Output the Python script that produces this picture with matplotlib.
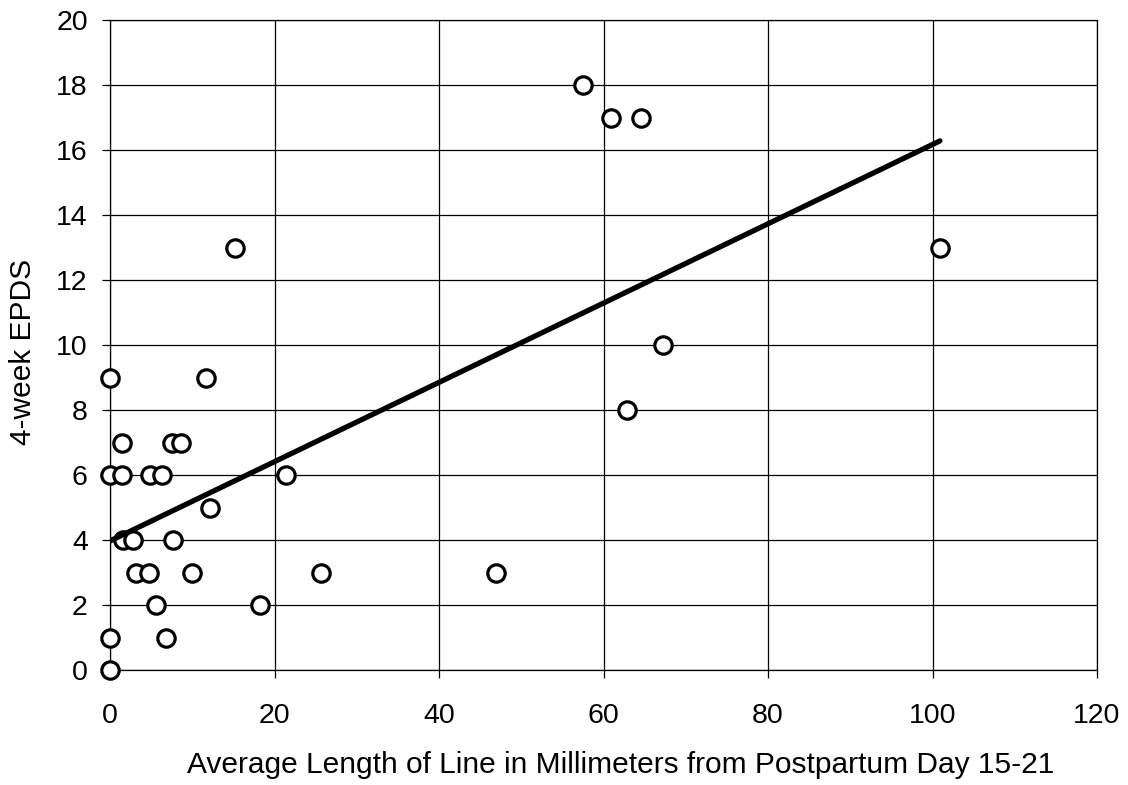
import matplotlib
matplotlib.use('Agg')
import matplotlib.pyplot as plt
import numpy as np

# average line length (mm), postpartum day 15-21
line_length = [0, 11.7, 1.5, 7.5, 8.6, 0, 1.5, 4.9, 6.3, 21.4, 12.1,
               1.6, 2.8, 7.7, 3.2, 4.7, 10.0, 25.7, 5.6, 18.2, 0, 6.8,
               0, 15.2, 46.9, 57.5, 60.9, 64.6, 100.9, 67.2, 62.9]
# 4-week EPDS score
epds = [9, 9, 7, 7, 7, 6, 6, 6, 6, 6, 5,
        4, 4, 4, 3, 3, 3, 3, 2, 2, 1, 1,
        0, 13, 3, 18, 17, 17, 13, 10, 8]

# trend line as drawn in the original
trend_intercept = 3.97
trend_slope = 0.122

x_ticks = [0, 20, 40, 60, 80, 100, 120]
y_ticks = [0, 2, 4, 6, 8, 10, 12, 14, 16, 18, 20]

plt.rcParams['font.family'] = ['Liberation Sans', 'DejaVu Sans']

fig = plt.figure(figsize=(11.28, 7.85), dpi=100)
ax = fig.add_axes([110 / 1128, 1 - 670 / 785, 987 / 1128, 650 / 785])

x = np.array(line_length)
y = np.array(epds)
fit_x = np.array([x.min(), x.max()])
ax.plot(fit_x, trend_intercept + trend_slope * fit_x, color='black',
        linewidth=3.8, solid_capstyle='round', zorder=5)

ax.plot(x, y, linestyle='none', marker='o', markersize=12.5,
        markerfacecolor='white', markeredgecolor='black',
        markeredgewidth=2.3, zorder=4, clip_on=False)

ax.set_xlim(0, 120)
ax.set_ylim(0, 20)
ax.set_xticks(x_ticks)
ax.set_yticks(y_ticks)
ax.grid(True, color='black', linewidth=0.9)
ax.set_axisbelow(True)
for s in ax.spines.values():
    s.set_linewidth(0.9)
ax.tick_params(direction='out', length=6, width=0.9, labelsize=20.5)
ax.tick_params(axis='x', pad=18)
ax.tick_params(axis='y', pad=10)

ax.set_xlabel('Average Length of Line in Millimeters from Postpartum Day 15-21',
              fontsize=21.5, va='center')
ax.set_ylabel('4-week EPDS', fontsize=21.5, va='center')
ax.xaxis.set_label_coords(0.517, -0.146)
ax.yaxis.set_label_coords(-0.088, 0.489)

fig.savefig('out.png', dpi=100)
